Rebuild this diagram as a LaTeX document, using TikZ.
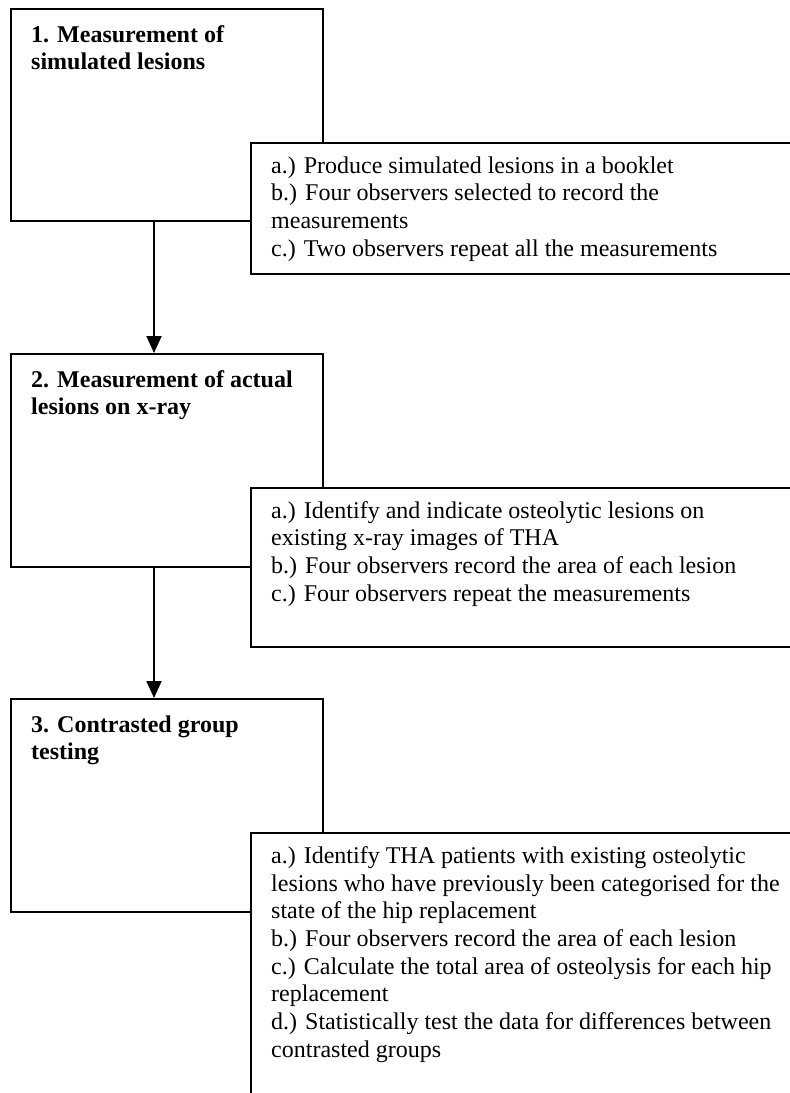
\documentclass[tikz,border=0pt]{standalone}
\usepackage{fontspec}
\setmainfont{Liberation Serif}
\usetikzlibrary{arrows.meta}
\newcommand\fsz{\fontsize{24}{27.7}\selectfont}
\begin{document}
\begin{tikzpicture}[x=1pt,y=-1pt,
  mainbox/.style={draw=black,line width=2pt,fill=white},
  txt/.style={anchor=north west,inner sep=0pt,align=left,font=\fsz},
  ttl/.style={txt,font=\fsz\bfseries},
  flowarrow/.style={draw=black,line width=2pt,-{Triangle[length=17pt,width=15pt]}}]
\useasboundingbox (0,0) rectangle (790,1093);
\clip (0,0) rectangle (790,1093);
\fill[white] (0,0) rectangle (790,1093);
\coordinate (ax) at (154,0);
% boxes
\node[mainbox,anchor=north west,minimum width=312pt,minimum height=212pt,inner sep=0pt] (b1) at (10,8) {};
\node[mainbox,anchor=north west,minimum width=560pt,minimum height=131pt,inner sep=0pt] (b1a) at (250,142) {};
\node[mainbox,anchor=north west,minimum width=312pt,minimum height=213pt,inner sep=0pt] (b2) at (10,353) {};
\node[mainbox,anchor=north west,minimum width=560pt,minimum height=159pt,inner sep=0pt] (b2a) at (250,487) {};
\node[mainbox,anchor=north west,minimum width=312pt,minimum height=213pt,inner sep=0pt] (b3) at (10,698) {};
\node[mainbox,anchor=north west,minimum width=560pt,minimum height=300pt,inner sep=0pt] (b3a) at (250,832) {};
% texts
\node[ttl] (t1) at (31,22.7) {\strut 1. Measurement of\\simulated lesions};
\node[txt] (t1a) at (271,153.7) {\strut a.) Produce simulated lesions in a booklet\\b.) Four observers selected to record the\\measurements\\c.) Two observers repeat all the measurements};
\node[ttl] (t2) at (31,367.7) {\strut 2. Measurement of actual\\lesions on x-ray};
\node[txt] (t2a) at (271,498.7) {\strut a.) Identify and indicate osteolytic lesions on\\existing x-ray images of THA\\b.) Four observers record the area of each lesion\\c.) Four observers repeat the measurements};
\node[ttl] (t3) at (31,712.7) {\strut 3. Contrasted group\\testing};
\node[txt] (t3a) at (271,843.7) {\strut a.) Identify THA patients with existing osteolytic\\lesions who have previously been categorised for the\\state of the hip replacement\\b.) Four observers record the area of each lesion\\c.) Calculate the total area of osteolysis for each hip\\replacement\\d.) Statistically test the data for differences between\\contrasted groups};
% arrows
\draw[flowarrow] (b1.south -| ax) -- (b2.north -| ax);
\draw[flowarrow] (b2.south -| ax) -- (b3.north -| ax);
\end{tikzpicture}
\end{document}
